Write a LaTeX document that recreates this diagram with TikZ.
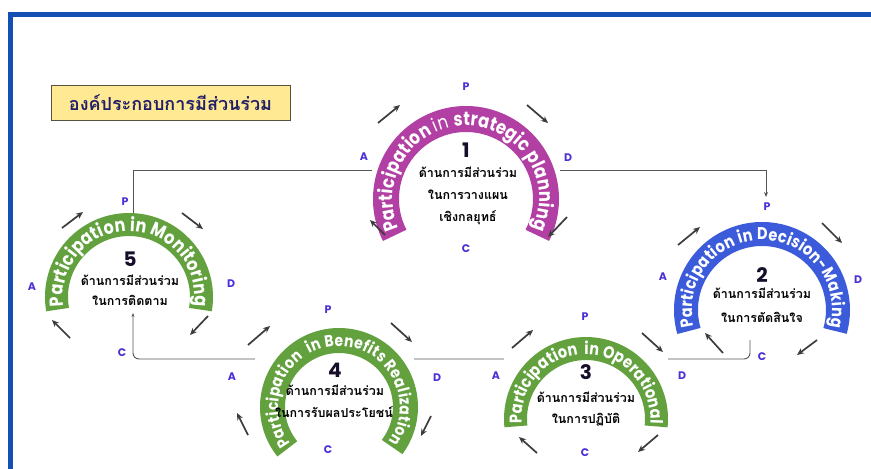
\documentclass[tikz,border=0pt]{standalone}
\usepackage{fontspec}
\usetikzlibrary{decorations.text,arrows.meta}
\newfontfamily\popfont{Poppins}
\newfontfamily\popcond{Poppins}[FakeStretch=0.85]
\newfontfamily\thaifont[Script=Thai]{Loma}
\definecolor{frameblue}{HTML}{1450B4}
\definecolor{purpleband}{HTML}{B23FA3}
\definecolor{blueband}{HTML}{3B5BDB}
\definecolor{greenband}{HTML}{62A13E}
\definecolor{pdcacol}{HTML}{4B30D8}
\definecolor{arrgray}{HTML}{3C3C3C}
\definecolor{conngray}{HTML}{555555}
\definecolor{titlefill}{HTML}{FFE992}
\definecolor{titletext}{HTML}{23206B}
\definecolor{numcol}{HTML}{160E2A}
\tikzset{
  band/.style={line width=#1, line cap=butt},
  pdca/.style={font=\popfont\bfseries\fontsize{11}{11}\selectfont, text=pdcacol, inner sep=0pt},
  cyc/.style={-{Stealth[length=7pt,width=6pt]}, line width=1.7pt, draw=arrgray},
  conn/.style={draw=conngray, line width=0.9pt},
  plate/.style={fill=white, draw=none, inner sep=0pt},
  num/.style={font=\popfont\bfseries\fontsize{20}{20}\selectfont, text=numcol, inner sep=0pt},
  thai/.style={font=\thaifont\bfseries\fontsize{12.5}{12.5}\selectfont, inner sep=0pt},
  arclabel/.style={decorate, decoration={text along path, text color=white, text align=fit to path, text={#1}}},
}
\begin{document}
\begin{tikzpicture}[x=1pt,y=1pt]
\useasboundingbox (0,0) rectangle (871,-469);
\fill[white] (0,0) rectangle (871,-469);
% frame
\draw[frameblue, line width=5pt] (10,-480) -- (10,-14.5) -- (880,-14.5);

% title
\node[draw=black!60!yellow!60!black, line width=0.6pt, fill=titlefill, minimum width=239pt, minimum height=35pt, inner sep=0pt,
      font=\thaifont\bfseries\fontsize{18}{18}\selectfont, text=titletext] (title) at (170.5,-102.5) {องค์ประกอบการมีส่วนร่วม};

% connector coordinates
\coordinate (l1a) at (380,-170);
\coordinate (l1b) at (133,-170);
\coordinate (l1c) at (133,-216);
\coordinate (l2a) at (552,-170);
\coordinate (l2b) at (766,-170);
\coordinate (l2c) at (766,-197);
\coordinate (l3a) at (750,-340);
\coordinate (l3b) at (750,-359);
\coordinate (l3c) at (133,-359);
\coordinate (l3d) at (133,-313);

\draw[conn] (l1a) -- (l1b) -- (l1c);
\draw[conn, -{Stealth[length=5pt,width=4pt]}] (l2a) -- (l2b) -- (l2c);
\draw[conn, rounded corners=6pt, -{Stealth[length=4pt,width=3pt]}] (l3a) -- (l3b) -- (l3c) -- (l3d);

% white plates behind the arcs
\node[plate, minimum width=188pt, minimum height=134pt] (plate1) at (466,-173) {};
\node[plate, minimum width=176pt, minimum height=113pt] (plate2) at (762,-278.5) {};
\node[plate, minimum width=164pt, minimum height=93pt] (plate3) at (586,-383.5) {};
\node[plate, minimum width=159pt, minimum height=127pt] (plate4) at (334.5,-391.5) {};
\node[plate, minimum width=168pt, minimum height=97pt] (plate5) at (129,-261.5) {};

% ---- arc 1
\draw[band=26pt, purpleband] (466,-199) ++(207:80) arc[start angle=207, end angle=-27, radius=80];
\path[arclabel={|\popcond\bfseries\fontsize{19.2}{19.2}\selectfont|Participation |\popcond\mdseries\fontsize{19.2}{19.2}\selectfont|in |\popcond\bfseries\fontsize{19.2}{19.2}\selectfont|strategic planning}]
  (466,-199) ++(204:73.2) arc[start angle=204, end angle=-24, radius=73.2];
\node[num] (n1) at (466,-150) {1};
\node[thai] (t1a) at (468,-172) {ด้านการมีส่วนร่วม};
\node[thai] (t1b) at (468,-195) {ในการวางแผน};
\node[thai] (t1c) at (468,-218) {เชิงกลยุทธ์};
\node[pdca] (p1) at (466,-87) {P};
\node[pdca] (d1) at (568,-158) {D};
\node[pdca] (c1) at (466,-249) {C};
\node[pdca] (a1) at (364,-157) {A};
\coordinate (k1a) at (378,-123); \coordinate (k1b) at (400,-105);
\coordinate (k1c) at (527,-105); \coordinate (k1d) at (548,-123);
\coordinate (k1e) at (567,-217); \coordinate (k1f) at (548,-237);
\coordinate (k1g) at (385,-235); \coordinate (k1h) at (370,-220);
\draw[cyc] (k1a) -- (k1b);
\draw[cyc] (k1c) -- (k1d);
\draw[cyc] (k1e) -- (k1f);
\draw[cyc] (k1g) -- (k1h);

% ---- arc 2
\draw[band=24pt, blueband] (762,-310) ++(196:76) arc[start angle=196, end angle=-16, radius=76];
\path[arclabel={|\popcond\bfseries\fontsize{17}{17}\selectfont|Participation in Decision-Making}]
  (762,-310) ++(194:70) arc[start angle=194, end angle=-14, radius=70];
\node[num] (n2) at (762,-275) {2};
\node[thai] (t2a) at (762,-293) {ด้านการมีส่วนร่วม};
\node[thai] (t2b) at (762,-317) {ในการตัดสินใจ};
\node[pdca] (p2) at (767,-207) {P};
\node[pdca] (d2) at (858,-280) {D};
\node[pdca] (c2) at (762,-357) {C};
\node[pdca] (a2) at (663,-277) {A};
\coordinate (k2a) at (678,-245); \coordinate (k2b) at (700,-227);
\coordinate (k2c) at (822,-223); \coordinate (k2d) at (842,-243);
\coordinate (k2e) at (817,-340); \coordinate (k2f) at (797,-355);
\coordinate (k2g) at (723,-353); \coordinate (k2h) at (705,-333);
\draw[cyc] (k2a) -- (k2b);
\draw[cyc] (k2c) -- (k2d);
\draw[cyc] (k2e) -- (k2f);
\draw[cyc] (k2g) -- (k2h);

% ---- arc 3
\draw[band=23pt, greenband] (586,-419) ++(186:70.5) arc[start angle=186, end angle=-6, radius=70.5];
\path[arclabel={|\popcond\bfseries\fontsize{17}{17}\selectfont|Participation{\ }{\ }in Operational}]
  (586,-419) ++(184:64.5) arc[start angle=184, end angle=-4, radius=64.5];
\node[num] (n3) at (586,-372) {3};
\node[thai] (t3a) at (586,-397) {ด้านการมีส่วนร่วม};
\node[thai] (t3b) at (586,-420) {ในการปฏิบัติ};
\node[pdca] (p3) at (585,-317) {P};
\node[pdca] (d3) at (682,-376) {D};
\node[pdca] (c3) at (585,-453) {C};
\node[pdca] (a3) at (496,-376) {A};
\coordinate (k3a) at (512,-348); \coordinate (k3b) at (533,-330);
\coordinate (k3c) at (642,-333); \coordinate (k3d) at (663,-352);
\coordinate (k3e) at (658,-435); \coordinate (k3f) at (638,-452);
\coordinate (k3g) at (537,-453); \coordinate (k3h) at (519,-437);
\draw[cyc] (k3a) -- (k3b);
\draw[cyc] (k3c) -- (k3d);
\draw[cyc] (k3e) -- (k3f);
\draw[cyc] (k3g) -- (k3h);

% ---- arc 4
\draw[band=25pt, greenband] (339,-407) ++(219:66.5) arc[start angle=219, end angle=-37, radius=66.5];
\path[arclabel={|\popcond\bfseries\fontsize{16.3}{16.3}\selectfont|Participation{\ }{\ }in Benefits Realization}]
  (339,-407) ++(217:60.8) arc[start angle=217, end angle=-35, radius=60.8];
\node[num] (n4) at (335,-370) {4};
\node[thai] (t4a) at (335,-390) {ด้านการมีส่วนร่วม};
\node[thai] (t4b) at (334,-412) {ในการรับผลประโยชน์};
\node[pdca] (p4) at (328,-310) {P};
\node[pdca] (d4) at (437,-378) {D};
\node[pdca] (c4) at (328,-450) {C};
\node[pdca] (a4) at (232,-377) {A};
\coordinate (k4a) at (248,-345); \coordinate (k4b) at (270,-326);
\coordinate (k4c) at (391,-323); \coordinate (k4d) at (412,-342);
\coordinate (k4e) at (431,-416); \coordinate (k4f) at (421,-436);
\coordinate (k4g) at (248,-435); \coordinate (k4h) at (237,-413);
\draw[cyc] (k4a) -- (k4b);
\draw[cyc] (k4c) -- (k4d);
\draw[cyc] (k4e) -- (k4f);
\draw[cyc] (k4g) -- (k4h);

% ---- arc 5
\draw[band=23pt, greenband] (129,-297) ++(190:72.5) arc[start angle=190, end angle=-10, radius=72.5];
\path[arclabel={|\popcond\bfseries\fontsize{18.8}{18.8}\selectfont|Participation in Monitoring}]
  (129,-297) ++(188:65.9) arc[start angle=188, end angle=-8, radius=65.9];
\node[num] (n5) at (130,-259) {5};
\node[thai] (t5a) at (130,-280) {ด้านการมีส่วนร่วม};
\node[thai] (t5b) at (130,-300) {ในการติดตาม};
\node[pdca] (p5) at (125,-202) {P};
\node[pdca] (d5) at (231,-284) {D};
\node[pdca] (c5) at (122,-353) {C};
\node[pdca] (a5) at (32,-287) {A};
\coordinate (k5a) at (62,-228); \coordinate (k5b) at (83,-212);
\coordinate (k5c) at (182,-213); \coordinate (k5d) at (203,-229);
\coordinate (k5e) at (208,-316); \coordinate (k5f) at (190,-335);
\coordinate (k5g) at (70,-338); \coordinate (k5h) at (52,-320);
\draw[cyc] (k5a) -- (k5b);
\draw[cyc] (k5c) -- (k5d);
\draw[cyc] (k5e) -- (k5f);
\draw[cyc] (k5g) -- (k5h);
\end{tikzpicture}
\end{document}
